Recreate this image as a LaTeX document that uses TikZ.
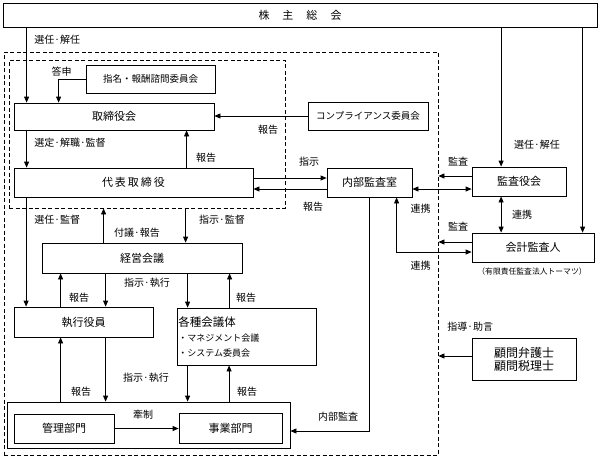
\documentclass[tikz,border=0pt]{standalone}
\usepackage{fontspec}
\setmainfont{Noto Sans CJK JP}
\usetikzlibrary{arrows.meta}
\begin{document}
\begin{tikzpicture}[x=1pt,y=-1pt,line width=0.8pt,>={Triangle[length=6pt,width=5pt]}]
			\useasboundingbox (0,0) rectangle (601,467);
			\begin{scope}[every node/.style={draw,dash pattern=on 4pt off 2.5pt,inner sep=0}]
				\node[minimum width=434pt,minimum height=403pt] (group) at (221,253.5) {};
				\node[minimum width=276pt,minimum height=148pt] (board) at (147,134) {};
			\end{scope}
			\begin{scope}[every node/.style={draw,inner sep=0,font=\fontsize{11}{13}\selectfont}]
				\node[minimum width=594pt,minimum height=24pt] (kabunushi) at (300,15) {株\hspace{13pt}主\hspace{13pt}総\hspace{13pt}会};
				\node[minimum width=129pt,minimum height=28pt,font=\fontsize{9.5}{11}\selectfont] (shimei) at (150.5,79) {指名・報酬諮問委員会};
				\node[minimum width=200pt,minimum height=27pt] (torishimari) at (114,116.5) {取締役会};
				\node[minimum width=120pt,minimum height=28pt,font=\fontsize{9.5}{11}\selectfont] (compliance) at (368,116) {コンプライアンス委員会};
				\node[minimum width=239pt,minimum height=29pt] (daihyo) at (133.5,182.5) {代\hspace{2pt}表\hspace{2pt}取\hspace{2pt}締\hspace{2pt}役};
				\node[minimum width=85pt,minimum height=29pt] (naibu) at (369.5,182.5) {内部監査室};
				\node[minimum width=94pt,minimum height=29pt] (kansayaku) at (519,181.5) {監査役会};
				\node[minimum width=122pt,minimum height=29pt] (kaikei) at (533,247.5) {会計監査人};
				\node[minimum width=200pt,minimum height=30pt] (keiei) at (142,258) {経営会議};
				\node[minimum width=139pt,minimum height=30pt] (shikkou) at (83.5,322) {執行役員};
				\node[minimum width=139pt,minimum height=57pt] (kakushu) at (246.5,336.5) {};
				\node[minimum width=283pt,minimum height=46pt] (genba) at (148.5,425) {};
				\node[minimum width=100pt,minimum height=29pt] (kanri) at (64,428.5) {管理部門};
				\node[minimum width=103pt,minimum height=30pt] (jigyo) at (230.5,428) {事業部門};
				\node[minimum width=104pt,minimum height=42pt,align=center,font=\fontsize{12}{13}\selectfont] (komon) at (524,359) {顧問弁護士\\顧問税理士};
			\end{scope}
			\begin{scope}[every node/.style={inner sep=0,font=\fontsize{10}{12}\selectfont}]
				\node[anchor=west] (sennin1) at (34,40) {選任·解任};
				\node (toushin) at (61.5,72) {答申};
				\node (houkoku1) at (268,130) {報告};
				\node[anchor=west] (sentei) at (34,143) {選定·解職·監督};
				\node (houkoku2) at (206,158) {報告};
				\node (shiji1) at (309,162) {指示};
				\node (houkoku3) at (313,207) {報告};
				\node (kansa1) at (458,162) {監査};
				\node (renkei1) at (420.5,209) {連携};
				\node (kansa2) at (458,227) {監査};
				\node (renkei2) at (420.5,266) {連携};
				\node (renkei3) at (522,215) {連携};
				\node (sennin2) at (537,145) {選任·解任};
				\node[font=\fontsize{7.8}{9}\selectfont] (tohmatsu) at (532,272) {（有限責任監査法人トーマツ）};
				\node[anchor=west] (shidou) at (447,327) {指導·助言};
				\node (naibukansa) at (338,417) {内部監査};
				\node[anchor=west] (sennin3) at (34,220) {選任·監督};
				\node (fugi) at (137,233) {付議·報告};
				\node (shiji2) at (222,220) {指示·監督};
				\node (houkoku4) at (79,298) {報告};
				\node (shiji3) at (147,283) {指示·執行};
				\node (houkoku5) at (246,298) {報告};
				\node (houkoku6) at (81,392) {報告};
				\node (shiji4) at (146,378) {指示·執行};
				\node (houkoku7) at (247,392) {報告};
				\node (kensei) at (143,415) {牽制};
				\node[anchor=west,font=\fontsize{11.5}{13}\selectfont] (kakushu_t) at (178,322) {各種会議体};
				\node[anchor=west,font=\fontsize{9}{11}\selectfont] (kakushu_b1) at (178,338) {・マネジメント会議};
				\node[anchor=west,font=\fontsize{9}{11}\selectfont] (kakushu_b2) at (178,353) {・システム委員会};
			\end{scope}
			% upper half
			\draw[->] ([xshift=13pt]torishimari.north west |- kabunushi.south) -- ([xshift=13pt]torishimari.north west);
			\draw[->] (shimei.west) -| ([xshift=45pt]torishimari.north west);
			\draw[->] (compliance.west) -- (compliance.west -| torishimari.east);
			\draw[->] ([xshift=173pt]daihyo.north west) -- ([xshift=173pt]daihyo.north west |- torishimari.south);
			\draw[->] ([xshift=13pt]torishimari.south west) -- ([xshift=13pt]daihyo.north west);
			\draw[->] ([yshift=4.5pt]daihyo.east) -- ([yshift=4.5pt]daihyo.east -| naibu.west);
			\draw[->] ([yshift=-6.5pt]naibu.west) -- ([yshift=-6.5pt]naibu.west -| daihyo.east);
			\draw[<->] ([yshift=-6.5pt]naibu.east) -- ([yshift=-6.5pt]naibu.east -| kansayaku.west);
			\draw[->] ([yshift=5.5pt]kansayaku.west) -- ([yshift=5.5pt]kansayaku.west -| group.east);
			\draw[->] ([xshift=29.5pt]kansayaku.north west |- kabunushi.south) -- ([xshift=29.5pt]kansayaku.north west);
			\draw[<->] ([xshift=29.5pt]kansayaku.south west) -- ([xshift=29.5pt]kansayaku.south west |- kaikei.north);
			\draw[->] ([xshift=111pt]kaikei.north west |- kabunushi.south) -- ([xshift=111pt]kaikei.north west);
			\draw[->] ([yshift=5.5pt]kaikei.west) -- ([yshift=5.5pt]kaikei.west -| group.east);
			\draw[<->] ([xshift=70pt]naibu.south west) |- ([yshift=-4.5pt]kaikei.west);
			\draw[->] ([xshift=43pt]naibu.south west) |- ([yshift=-6pt]genba.east);
			\draw[->] ([yshift=3pt]komon.west) -- ([yshift=3pt]komon.west -| group.east);
			% lower half
			\draw[->] ([xshift=62pt]keiei.north west) -- ([xshift=62pt]keiei.north west |- board.south);
			\draw[->] ([xshift=144pt]keiei.north west |- board.south) -- ([xshift=144pt]keiei.north west);
			\draw[->] ([xshift=12.5pt]daihyo.south west) -- ([xshift=12.5pt]shikkou.north west);
			\draw[->] ([xshift=47pt]shikkou.north west) -- ([xshift=47pt]shikkou.north west |- keiei.south);
			\draw[->] ([xshift=92pt]shikkou.north west |- keiei.south) -- ([xshift=92pt]shikkou.north west);
			\draw[->] ([xshift=11pt]kakushu.north west |- keiei.south) -- ([xshift=11pt]kakushu.north west);
			\draw[->] ([xshift=53pt]kakushu.north west) -- ([xshift=53pt]kakushu.north west |- keiei.south);
			\draw[->] ([xshift=47pt]shikkou.south west |- genba.north) -- ([xshift=47pt]shikkou.south west);
			\draw[->] ([xshift=92pt]shikkou.south west) -- ([xshift=92pt]shikkou.south west |- genba.north);
			\draw[->] ([xshift=11pt]kakushu.south west) -- ([xshift=11pt]kakushu.south west |- genba.north);
			\draw[->] ([xshift=52.5pt]kakushu.south west |- genba.north) -- ([xshift=52.5pt]kakushu.south west);
			\draw[->] (kanri.east) -- (kanri.east -| jigyo.west);
\end{tikzpicture}
\end{document}
